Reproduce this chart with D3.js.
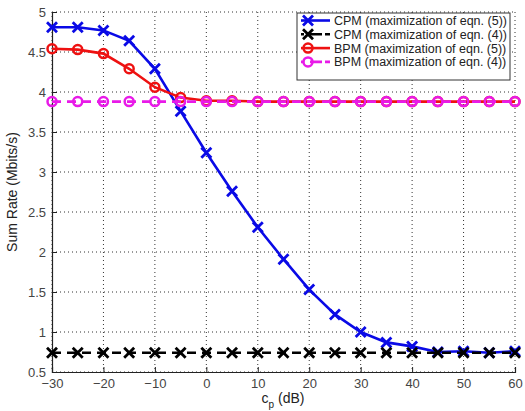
<html>
<head>
<style>
  body { margin: 0; background: #fff; }
  text { font-family: "Liberation Sans", Arial, sans-serif; }
</style>
</head>
<body>
<script src="https://d3js.org/d3.v7.min.js"></script>
<script>
var cp = [-30, -25, -20, -15, -10, -5, 0, 5, 10, 15, 20, 25, 30, 35, 40, 45, 50, 55, 60];
var cpmEq5 = [4.81, 4.81, 4.77, 4.64, 4.29, 3.76, 3.24, 2.76, 2.31, 1.91, 1.53, 1.22, 1.0, 0.87, 0.82, 0.75, 0.76, 0.74, 0.76];
var cpmEq4 = [0.74, 0.74, 0.74, 0.74, 0.74, 0.74, 0.74, 0.74, 0.74, 0.74, 0.74, 0.74, 0.74, 0.74, 0.74, 0.74, 0.74, 0.74, 0.74];
var bpmEq5 = [4.54, 4.53, 4.48, 4.29, 4.06, 3.93, 3.89, 3.89, 3.88, 3.88, 3.88, 3.88, 3.88, 3.88, 3.88, 3.88, 3.88, 3.88, 3.88];
var bpmEq4 = [3.88, 3.88, 3.88, 3.88, 3.88, 3.88, 3.88, 3.88, 3.88, 3.88, 3.88, 3.88, 3.88, 3.88, 3.88, 3.88, 3.88, 3.88, 3.88];
var xTicks = [-30, -20, -10, 0, 10, 20, 30, 40, 50, 60];
var yTicks = [0.5, 1, 1.5, 2, 2.5, 3, 3.5, 4, 4.5, 5];
var legendLabels = ["CPM (maximization of eqn. (5))", "CPM (maximization of eqn. (4))",
                    "BPM (maximization of eqn. (5))", "BPM (maximization of eqn. (4))"];

var W = 525, H = 411,
    m = { left: 52, right: 515, top: 12, bottom: 372 };

var x = d3.scaleLinear().domain([-30, 60]).range([m.left, m.right]);
var y = d3.scaleLinear().domain([0.5, 5]).range([m.bottom, m.top]);

var svg = d3.select("body").append("svg")
    .attr("width", W).attr("height", H);

// grid (matlab style dotted)
svg.append("g").selectAll("line").data(xTicks).enter().append("line")
    .attr("x1", function(d) { return x(d); }).attr("x2", function(d) { return x(d); })
    .attr("y1", m.top).attr("y2", m.bottom)
    .attr("stroke", "#333").attr("stroke-width", 1).attr("stroke-dasharray", "1,3");
svg.append("g").selectAll("line").data(yTicks).enter().append("line")
    .attr("y1", function(d) { return y(d); }).attr("y2", function(d) { return y(d); })
    .attr("x1", m.left).attr("x2", m.right)
    .attr("stroke", "#333").attr("stroke-width", 1).attr("stroke-dasharray", "1,3");

// axes
var xAxis = d3.axisBottom(x).tickValues(xTicks).tickSize(-5).tickPadding(7)
    .tickFormat(function(d) { return d < 0 ? "\u2212" + Math.abs(d) : d; });
var yAxis = d3.axisLeft(y).tickValues(yTicks).tickSize(-5).tickPadding(6)
    .tickFormat(function(d) { return d; });

var gx = svg.append("g").attr("transform", "translate(0," + m.bottom + ")").call(xAxis);
var gy = svg.append("g").attr("transform", "translate(" + m.left + ",0)").call(yAxis);
[gx, gy].forEach(function(g) {
  g.select(".domain").attr("stroke", "#222").attr("stroke-width", 1.2);
  g.selectAll(".tick line").attr("stroke", "#222");
  g.selectAll(".tick text").attr("fill", "#444").attr("font-size", 13)
    .attr("font-family", "Liberation Sans, Arial, sans-serif");
});

// axis labels
svg.append("text")
    .attr("transform", "translate(17," + ((m.top + m.bottom) / 2) + ") rotate(-90)")
    .attr("text-anchor", "middle").attr("font-size", 14).attr("fill", "#222")
    .text("Sum Rate (Mbits/s)");
var xl = svg.append("text").attr("x", 283).attr("y", 403)
    .attr("text-anchor", "middle").attr("font-size", 14).attr("fill", "#222");
xl.append("tspan").text("c");
xl.append("tspan").attr("font-size", 10).attr("dy", 5).text("p");
xl.append("tspan").attr("dy", -5).text(" (dB)");

var series = [
  { vals: cpmEq5, color: "#0a0ae6", dash: null, marker: "x" },
  { vals: cpmEq4, color: "#000", dash: "9,6", marker: "x" },
  { vals: bpmEq5, color: "#ee1111", dash: null, marker: "o" },
  { vals: bpmEq4, color: "#e81ae8", dash: "9,6", marker: "o" }
];

var line = d3.line()
    .x(function(d) { return x(d[0]); })
    .y(function(d) { return y(d[1]); });

function drawMarker(g, type, color, cx, cy) {
  if (type === "x") {
    var s = 5;
    g.append("path")
      .attr("d", "M" + (cx - s) + "," + (cy - s) + "L" + (cx + s) + "," + (cy + s) +
                 "M" + (cx - s) + "," + (cy + s) + "L" + (cx + s) + "," + (cy - s))
      .attr("stroke", color).attr("stroke-width", 2.8).attr("fill", "none");
  } else {
    g.append("circle").attr("cx", cx).attr("cy", cy).attr("r", 4.5)
      .attr("stroke", color).attr("stroke-width", 2.5).attr("fill", "none");
  }
}

// plot in legend order, later series on top (like matlab)
series.forEach(function(s) {
  var pts = cp.map(function(c, j) { return [c, s.vals[j]]; });
  var g = svg.append("g");
  g.append("path").datum(pts).attr("d", line)
    .attr("fill", "none").attr("stroke", s.color).attr("stroke-width", 2.6)
    .attr("stroke-dasharray", s.dash);
  pts.forEach(function(p) { drawMarker(g, s.marker, s.color, x(p[0]), y(p[1])); });
});

// legend
var lg = svg.append("g");
lg.append("rect").attr("x", 297).attr("y", 13).attr("width", 213).attr("height", 67)
  .attr("fill", "#fff").attr("stroke", "#333").attr("stroke-width", 1);
legendLabels.forEach(function(t, i) {
  var s = series[i], ly = 20.5 + i * 13.8;
  lg.append("line").attr("x1", 301).attr("x2", 330).attr("y1", ly).attr("y2", ly)
    .attr("stroke", s.color).attr("stroke-width", 2.6).attr("stroke-dasharray", s.dash ? "3,6,12" : null);
  drawMarker(lg, s.marker, s.color, 308, ly);
  lg.append("text").attr("x", 334).attr("y", ly + 4.5).attr("font-size", 12.5)
    .attr("fill", "#222").text(t);
});
</script>
</body>
</html>
